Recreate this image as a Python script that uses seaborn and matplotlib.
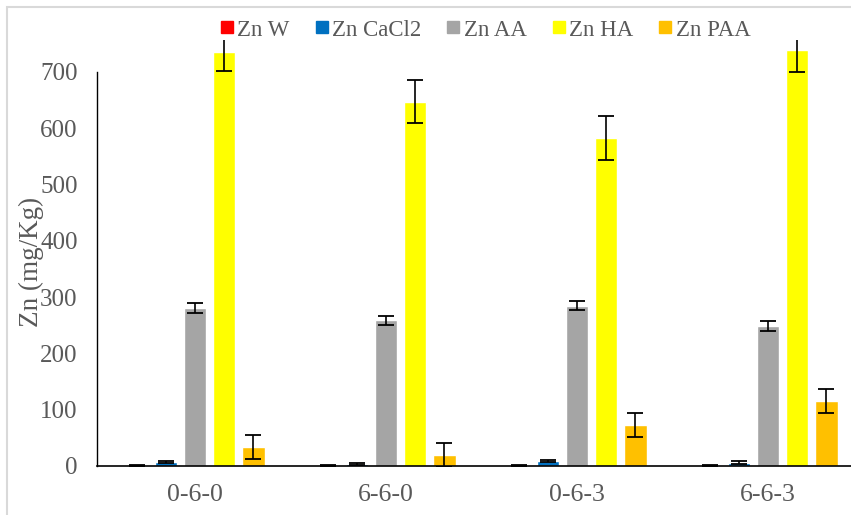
import matplotlib
matplotlib.use("Agg")
import matplotlib.pyplot as plt
import seaborn as sns
import pandas as pd
import numpy as np
from matplotlib.patches import Rectangle
from matplotlib.lines import Line2D

categories = ["0-6-0", "6-6-0", "0-6-3", "6-6-3"]
series = ["Zn W", "Zn CaCl2", "Zn AA", "Zn HA", "Zn PAA"]
zn_w = [1, 0.5, 1, 0.5]
zn_cacl2 = [7, 4, 9, 6]
zn_aa = [281, 259, 285, 249]
zn_ha = [735, 647, 582, 739]
zn_paa = [34, 20, 73, 115]
err_w = [0.5, 0.5, 0.5, 0.5]
err_cacl2 = [2, 2, 2, 2]
err_aa = [9, 8, 8, 9]
err_ha = [33, 38, 39, 39]
err_paa = [21, 21, 21, 21]
colors = ["#FF0000", "#0070C0", "#A5A5A5", "#FFFF00", "#FFC000"]
yticks = [0, 100, 200, 300, 400, 500, 600, 700]

values = [zn_w, zn_cacl2, zn_aa, zn_ha, zn_paa]
errors = [err_w, err_cacl2, err_aa, err_ha, err_paa]
rows = []
for s, vals in zip(series, values):
    for c, v in zip(categories, vals):
        rows.append({"cat": c, "series": s, "val": v})
df = pd.DataFrame(rows)

sns.set_style("white")
plt.rcParams["font.family"] = ["Liberation Serif", "DejaVu Serif"]
txt = "#595959"

W, H = 851, 515
fig = plt.figure(figsize=(W / 100, H / 100), dpi=100)
left, right, top, bottom = 97, 851, 40, 466
ax = fig.add_axes([left / W, 1 - bottom / H, (right - left) / W, (bottom - top) / H])

sns.barplot(data=df, x="cat", y="val", hue="series", order=categories,
            hue_order=series, palette=colors, errorbar=None, width=0.76,
            gap=0.21, legend=False, ax=ax, saturation=1)

bars = [p for p in ax.patches]
i = 0
for s_idx in range(len(series)):
    for c_idx in range(len(categories)):
        p = bars[i]
        i += 1
        xc = p.get_x() + p.get_width() / 2
        ax.errorbar(xc, values[s_idx][c_idx], yerr=errors[s_idx][c_idx],
                    fmt="none", ecolor="black", elinewidth=1.2, capsize=6,
                    capthick=1.3, zorder=5)

ppu = 191.0
x0 = 195
ax.set_xlim(-(x0 - left) / ppu, (right - x0) / ppu)
ax.set_ylim(0, (bottom - top) / 0.5629)
ax.set_yticks(yticks)
ax.set_xlabel("")
ax.set_ylabel("")
for sp in ["top", "right"]:
    ax.spines[sp].set_visible(False)
ax.spines["left"].set_bounds(0, 700)
ax.spines["left"].set_color("black")
ax.spines["left"].set_linewidth(1.0)
ax.spines["bottom"].set_color("black")
ax.spines["bottom"].set_linewidth(1.2)
ax.tick_params(axis="y", length=0, pad=14, labelsize=18, labelcolor=txt)
ax.tick_params(axis="x", length=0, pad=13, labelsize=18.5, labelcolor=txt)

fig.text(31 / W, 1 - 262 / H, "Zn (mg/Kg)", rotation=90, ha="center",
         va="center", fontsize=19.5, color=txt)

handles = [Line2D([], [], marker="s", linestyle="none", markersize=9,
                  markerfacecolor=c, markeredgecolor=c) for c in colors]
fig.legend(handles, series, loc="center", bbox_to_anchor=(484 / W, 1 - 30 / H),
           ncol=5, frameon=False, fontsize=16.5, labelcolor=txt,
           handletextpad=0.05, columnspacing=1.0, handlelength=0.8)

fig.patches.append(Rectangle((7 / W, -0.1), 1.2, 1 - 7 / H + 0.1,
                             transform=fig.transFigure, fill=False,
                             edgecolor="#D9D9D9", linewidth=1.5))

fig.savefig("out.png", dpi=100)
